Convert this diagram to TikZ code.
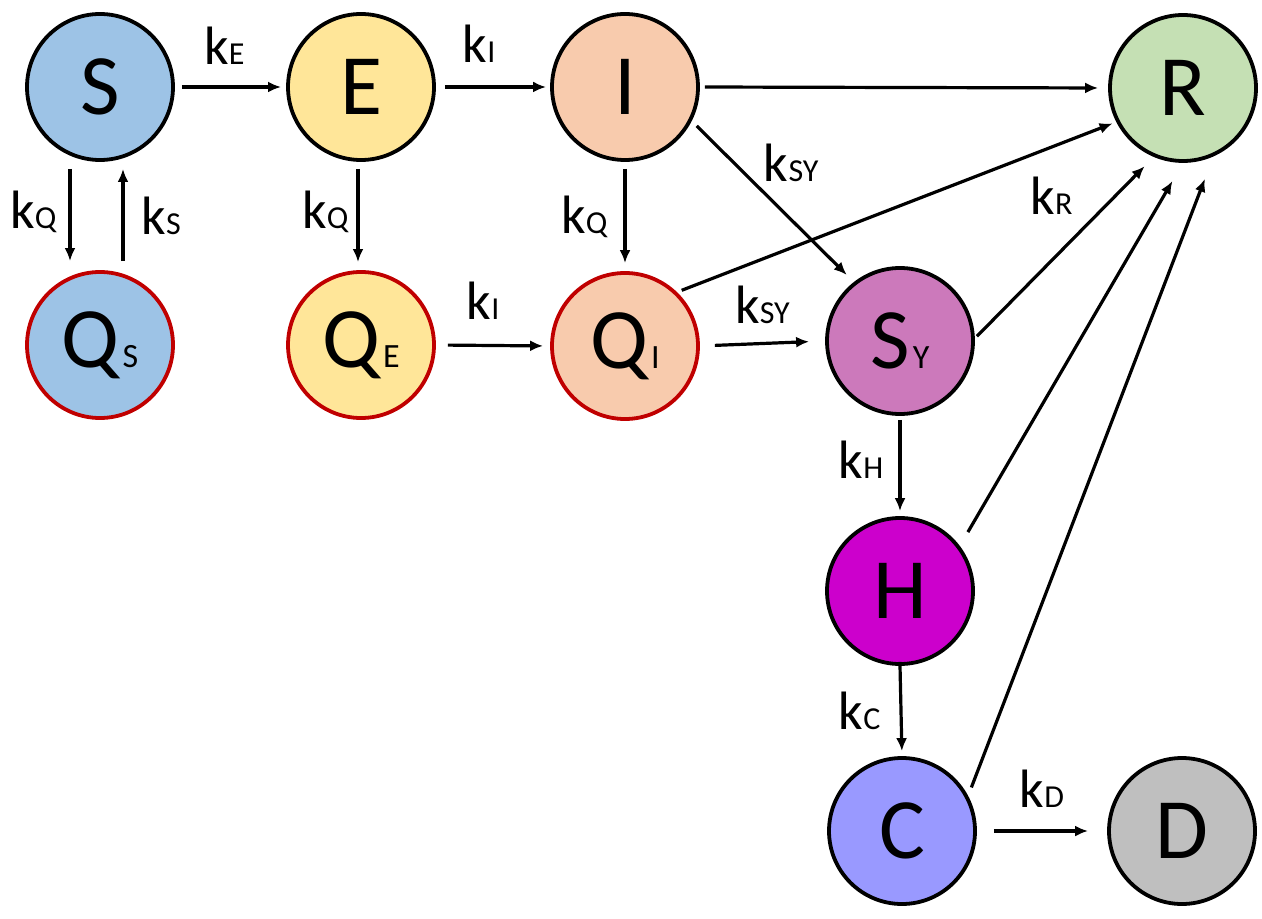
\documentclass[tikz,border=0pt]{standalone}
\usepackage{fontspec}
\setmainfont{Carlito}
\usetikzlibrary{arrows.meta}

\definecolor{sblue}{HTML}{9DC3E6}
\definecolor{eyellow}{HTML}{FFE699}
\definecolor{ipeach}{HTML}{F8CBAD}
\definecolor{rgreen}{HTML}{C5E0B4}
\definecolor{symauve}{HTML}{CC79BB}
\definecolor{hmagenta}{HTML}{CC00CC}
\definecolor{cviolet}{HTML}{9999FF}
\definecolor{dgrey}{HTML}{BFBFBF}
\definecolor{qred}{HTML}{C00000}

\newcommand{\nsub}[1]{\kern1.5pt{\fontsize{17}{18}\selectfont #1}}
\newcommand{\krate}[1]{k{\fontsize{16}{17}\selectfont #1}}

\tikzstyle{state} = [circle, minimum size=73pt, inner sep=0pt, draw=black, line width=1.9pt, font=\fontsize{43}{43}\selectfont]
\tikzstyle{quar} = [state, draw=qred]
\tikzstyle{arrow} = [line width=1.6pt, -{Latex[length=6.5pt,width=5.5pt]}]
\tikzstyle{rate} = [font=\fontsize{27}{28}\selectfont, inner sep=0pt]

\begin{document}
\begin{tikzpicture}[x=0.5pt, y=-0.5pt]
        \useasboundingbox (0,0) rectangle (1262,919);

        \node (S) [state, fill=sblue] at (100,87) {S};
        \node (E) [state, fill=eyellow] at (361,87) {E};
        \node (I) [state, fill=ipeach] at (625,87) {I};
        \node (R) [state, fill=rgreen] at (1183,88) {R};
        \node (QS) [quar, fill=sblue] at (100,345) {Q\nsub{S}};
        \node (QE) [quar, fill=eyellow] at (361,345) {Q\nsub{E}};
        \node (QI) [quar, fill=ipeach] at (625,346) {Q\nsub{I}};
        \node (SY) [state, fill=symauve] at (900,341) {S\nsub{Y}};
        \node (H) [state, fill=hmagenta] at (900,591) {H};
        \node (C) [state, fill=cviolet] at (902,831) {C};
        \node (D) [state, fill=dgrey] at (1182,831) {D};

        \draw [arrow, shorten <=3.5pt, shorten >=2.5pt] (S.east) -- node[rate, above=10.5pt, xshift=-3pt] {\krate{E}} (E.west);
        \draw [arrow, shorten <=4.5pt, shorten >=2pt] (E.east) -- node[rate, above=11.5pt, xshift=-7pt] {\krate{I}} (I.west);
        \draw [arrow, shorten <=2.5pt, shorten >=5pt] (I.east) -- (R.west);

        \draw [arrow, shorten <=3.5pt, shorten >=4.5pt] ([xshift=-15pt]S.south) -- node[rate, left=6pt, yshift=2pt] {\krate{Q}} ([xshift=-15pt]QS.north);
        \draw [arrow, shorten <=4.5pt, shorten >=3.5pt] ([xshift=11.5pt]QS.north) -- node[rate, right=8.5pt] {\krate{S}} ([xshift=11.5pt]S.south);
        \draw [arrow, shorten <=3.5pt, shorten >=4pt] ([xshift=-1.5pt]E.south) -- node[rate, left=4pt, yshift=2pt] {\krate{Q}} ([xshift=-1.5pt]QE.north);
        \draw [arrow, shorten <=3.5pt, shorten >=4pt] (I.south) -- node[rate, left=8pt] {\krate{Q}} (QI.north);

        \draw [arrow, shorten <=6pt, shorten >=3.5pt] (QE.east) -- node[rate, above=12pt, xshift=-5pt] {\krate{I}} (QI.west);
        \draw [arrow, shorten <=7.5pt, shorten >=8pt] (QI.east) -- node[rate, above=9pt] {\krate{SY}} (SY.west);

        \draw [arrow, shorten <=3.5pt, shorten >=5pt] (I.-27) -- node[rate, pos=0.3, right=11pt, yshift=3pt] {\krate{SY}} (SY.128);
        \draw [arrow, shorten <=2.5pt, shorten >=2pt] (QI.46) -- (R.207);
        \draw [arrow, shorten <=1.5pt, shorten >=6.5pt] (SY.2) -- node[rate, pos=0.8, left=22pt, yshift=-1.5pt] {\krate{R}} (R.247);
        \draw [arrow, shorten <=8pt, shorten >=10.5pt] (H.37) -- (R.270);
        \draw [arrow, shorten <=4.5pt, shorten >=12pt] (C.28) -- (R.294);

        \draw [arrow, shorten <=2pt, shorten >=2.5pt] (SY.south) -- node[rate, left=7.5pt, yshift=3pt] {\krate{H}} (H.north);
        \draw [arrow, shorten <=-2pt, shorten >=2.5pt] (H.south) -- node[rate, left=9.5pt] {\krate{C}} (C.north);
        \draw [arrow, shorten <=8.5pt, shorten >=9.5pt] (C.east) -- node[rate, above=11pt] {\krate{D}} (D.west);
\end{tikzpicture}
\end{document}
